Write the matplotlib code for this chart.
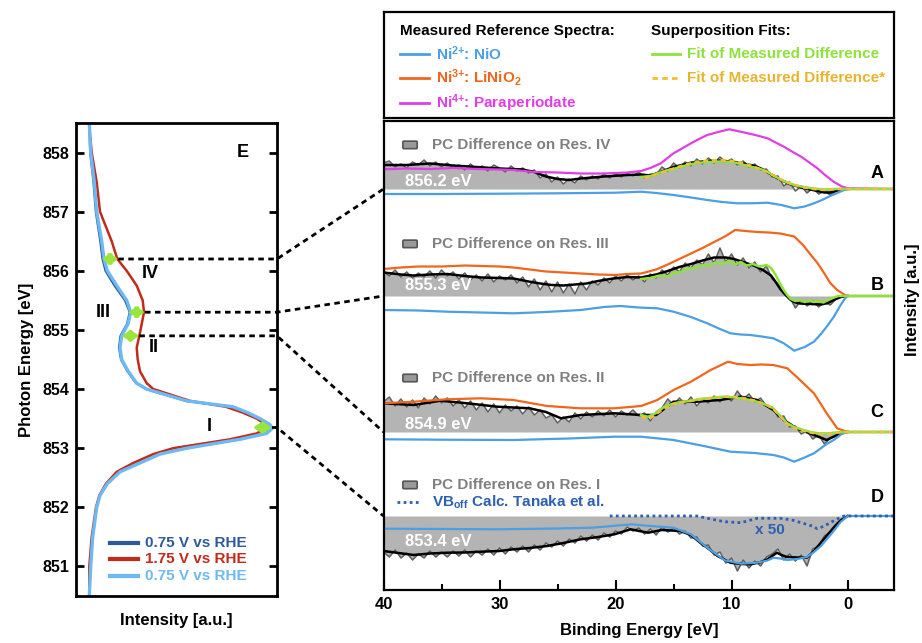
import numpy as np
import matplotlib
matplotlib.use('Agg')
import matplotlib.pyplot as plt
from matplotlib.lines import Line2D
from matplotlib.patches import FancyBboxPatch

plt.rcParams['font.family'] = ['Liberation Sans', 'DejaVu Sans']
plt.rcParams['font.weight'] = 'bold'
plt.rcParams['axes.labelweight'] = 'bold'
plt.rcParams['mathtext.fontset'] = 'custom'
plt.rcParams['mathtext.rm'] = 'Liberation Sans:bold'
plt.rcParams['mathtext.it'] = 'Liberation Sans:bold'
plt.rcParams['mathtext.bf'] = 'Liberation Sans:bold'
plt.rcParams['mathtext.sf'] = 'Liberation Sans:bold'

# ---------------- panel E : absorption edge ----------------
e_photon = [858.5, 858.0, 857.5, 857.0, 856.5, 856.2, 856.0, 855.75, 855.5, 855.3,
            855.1, 854.9, 854.7, 854.5, 854.3, 854.1, 854.0, 853.8, 853.7, 853.6,
            853.5, 853.4, 853.33, 853.25, 853.15, 853.0, 852.9, 852.75, 852.6, 852.4,
            852.2, 852.0, 851.5, 851.0, 850.5]
xas_075_first = [13.3, 14.2, 17.5, 19.8, 24.3, 26.5, 29.5, 38.5, 49.0, 53.7,
                 51.0, 44.5, 43.0, 45.0, 51.5, 60.0, 70.0, 110.0, 156.0, 171.0,
                 183.0, 193.0, 195.0, 189.7, 163.0, 110.0, 83.0, 63.0, 43.5, 31.0,
                 23.8, 20.5, 16.5, 14.5, 13.3]
xas_175 = [13.0, 15.7, 20.7, 24.0, 35.7, 41.3, 50.7, 60.7, 66.7, 68.0,
           65.7, 63.3, 60.7, 61.7, 64.0, 70.7, 77.3, 114.0, 150.0, 167.0,
           180.7, 190.0, 189.0, 180.7, 154.0, 97.3, 77.3, 57.3, 40.7, 30.0,
           23.3, 20.0, 15.7, 13.3, 13.3]
xas_075_back = [13.3, 14.7, 18.3, 20.7, 25.7, 28.0, 31.3, 40.7, 50.7, 54.7,
                52.0, 45.7, 44.0, 45.7, 52.3, 60.7, 70.7, 110.7, 157.0, 172.0,
                184.0, 194.0, 196.0, 190.7, 164.0, 110.7, 84.0, 64.0, 44.0, 31.3,
                24.0, 20.7, 16.7, 14.7, 13.3]
xas_labels = ['0.75 V vs RHE', '1.75 V vs RHE', '0.75 V vs RHE']

# resonance energies, arrow extents, names
res_energy = [856.2, 855.3, 854.9, 853.35]
res_left = [25.7, 52.3, 45.7, 177.0]
res_right = [42.3, 69.0, 63.3, 196.0]
res_names = ['IV', 'III', 'II', 'I']

# ---------------- right panels : binding energy spectra ----------------
pc_energy = np.arange(40, -0.25, -0.5)
pc_a = [26, 28, 22, 25, 21, 27, 24, 29, 23, 27,
        22, 26, 21, 24, 19, 25, 20, 23, 18, 24,
        21, 17, 23, 18, 21, 16, 19, 11, 15, 7,
        12, 5, 10, 6, 13, 9, 13, 10, 15, 11,
        15, 12, 16, 13, 17, 11, 15, 14, 22, 18,
        26, 21, 27, 23, 30, 25, 31, 26, 32, 27,
        30, 24, 28, 22, 25, 19, 20, 12, 13, 3,
        7, -2, 3, -4, 1, -5, -2, -6, -2, -1, 0]
pc_b = [25, 20, 26, 19, 24, 18, 23, 19, 25, 18,
        26, 20, 24, 17, 23, 16, 21, 15, 22, 14,
        20, 16, 21, 13, 19, 9, 17, 6, 15, 4,
        14, 3, 12, 2, 14, 6, 15, 11, 18, 13,
        20, 15, 21, 16, 20, 14, 22, 18, 26, 21,
        29, 24, 33, 28, 36, 31, 42, 33, 48, 34,
        42, 31, 38, 28, 34, 24, 30, 17, 12, 2,
        -1, -12, -4, -10, -5, -11, -6, -9, -3, -1, 0]
pc_c = [30, 35, 26, 33, 25, 32, 24, 34, 28, 36,
        29, 34, 26, 32, 24, 31, 22, 29, 20, 28,
        19, 27, 21, 26, 18, 25, 17, 22, 14, 17,
        9, 15, 10, 19, 13, 20, 15, 21, 16, 22,
        15, 21, 17, 22, 16, 19, 11, 20, 24, 33,
        27, 34, 28, 35, 26, 33, 29, 36, 30, 35,
        31, 41, 33, 38, 30, 34, 26, 25, 15, 16,
        5, 6, -2, 1, -7, -3, -12, -6, -4, -1, 0]
pc_d = [-36, -41, -34, -42, -37, -44, -38, -42, -35, -41,
        -36, -41, -35, -40, -34, -41, -35, -39, -33, -39,
        -32, -38, -31, -36, -30, -36, -29, -34, -27, -31,
        -25, -30, -23, -27, -20, -25, -19, -24, -17, -21,
        -15, -18, -11, -15, -12, -18, -13, -19, -11, -16,
        -12, -18, -15, -22, -21, -30, -29, -39, -36, -47,
        -42, -55, -44, -52, -45, -50, -41, -38, -33, -44,
        -38, -45, -39, -50, -33, -30, -20, -16, -8, -3, 0]

# smoothed PC differences
smooth_a_e = [40, 38, 36, 34, 32, 30, 28, 27, 26, 25, 24, 23, 21, 19, 17.8, 17, 16, 15,
              13.5, 12, 11, 10, 9, 8, 7.5, 6.5, 6, 5, 4, 3, 2, 1.5, 1, 0.5, 0]
smooth_a = [24, 24, 25.5, 23.5, 22, 20.5, 19.5, 17, 12.5, 10, 9, 10.5, 12.5, 14, 14.5, 13.5,
            17.5, 22, 26.3, 28, 28.3, 27.5, 25.5, 23, 20.7, 14, 10.5, 5, 1.5, -1, -3.5, -3.5,
            -2, -0.5, 0]
smooth_b_e = [40, 38.5, 37.4, 36, 34.5, 33, 31.6, 30, 28.8, 27.5, 26.5, 25.5, 24.5, 23.5,
              22.5, 21.5, 20.2, 19, 17.8, 16.5, 15.5, 14.5, 13.5, 12.5, 11.5, 10.5, 9.8, 9,
              8.1, 7.3, 6.6, 6.2, 5.8, 5.3, 4.9, 4.5, 4.1, 3.2, 2.3, 1.7, 1.2, 0.6, 0]
smooth_b = [23.5, 21.5, 20.5, 21.5, 22, 20, 18.5, 18, 17.5, 14.5, 12.5, 11, 10.5, 11.5, 12.5,
            15, 17.5, 19, 18.5, 21.5, 25, 29, 32, 35.5, 38.5, 38.5, 37, 34, 30.5, 26, 20.5,
            14, 7, 0.5, -4, -6.5, -7.5, -8, -8.5, -7, -4, -1, 0]
smooth_c_e = [40, 37.4, 35.1, 32.8, 30.2, 27.4, 26, 24.7, 23, 20.1, 17.8, 16.5, 15, 13, 11,
              9.2, 7.8, 6.4, 5.5, 4.4, 2.9, 1.8, 0.6, 0]
smooth_c = [28.7, 27, 31.3, 28.7, 25.3, 23.7, 20, 13.7, 17, 18.7, 17, 17, 30.3, 30.3, 32,
            35.3, 32, 22, 12, 3.7, -3, -8, -1.3, 0]
smooth_d_e = [40, 38.7, 37.4, 36, 34.5, 33, 31.6, 30, 28.8, 27.4, 25.9, 24.5, 23, 21.5, 20.1,
              18.7, 17.2, 16, 14.4, 13.5, 12.7, 11.9, 11.2, 10.1, 9.2, 8.4, 7.6, 6.9, 6.1,
              5.6, 5.2, 4.3, 3.5, 2.9, 2.3, 1.7, 1.2, 0.6, 0]
smooth_d = [-35, -37, -39, -37.5, -36.7, -36.5, -35.7, -35, -33.3, -32, -30, -27, -23.3, -21,
            -18.3, -13.3, -16.7, -14, -15, -19, -26.7, -33.5, -40, -46.7, -48, -48.3, -46.5,
            -43.3, -36.7, -39.5, -41, -41.5, -41.7, -35, -26.7, -18.5, -11.7, -4.5, 0]

# measured references (scaled per panel)
para_a_e = [40, 38, 36, 34, 32, 30, 28.8, 27, 25, 23, 21, 19, 17.8, 17, 16.1, 15, 14.2, 13.5,
            12.8, 12.1, 11, 10.2, 9.5, 8.6, 7.8, 6.9, 6.2, 5.5, 4.8, 4, 3.3, 2.6, 2, 1.2, 0.5,
            0, -4]
para_a = [19.7, 20.5, 20, 21, 20, 19.5, 19, 17, 16.5, 15.5, 15.5, 16.5, 18, 21, 25.7, 35.7,
          41, 45.7, 50, 54, 57.5, 59.7, 58, 55.7, 53.5, 50.7, 46.5, 42.3, 37.5, 32.3, 26.5,
          20.7, 14.5, 7.3, 2.5, 0.7, 0]
lnio_b_e = [40, 38.5, 37, 35, 33, 31.5, 30, 28.8, 27.4, 26, 24.5, 23, 21.5, 20, 19, 17.8, 16.5,
            15.5, 14.5, 13.5, 12.5, 11.5, 10.5, 9.7, 8.8, 7.8, 6.8, 5.8, 4.6, 3.8, 3.2, 2.6,
            2, 1.5, 0.9, 0.3, 0, -4]
lnio_b = [27, 28.5, 29.5, 29.5, 30.5, 30, 29.5, 28.5, 26.5, 24.5, 23.5, 22.5, 21.5, 21, 22,
          22.5, 26.5, 31.5, 37, 42.5, 48, 54, 60, 66, 65, 64, 63.5, 62.5, 59.5, 50.5, 41.5,
          33, 22.5, 13, 6, 1.5, 0, 0]
lnio_c_e = [40, 37.4, 34.5, 31.6, 28.8, 25.9, 23, 20.1, 17.8, 16.4, 15, 13.5, 11.8, 10.3, 9.5,
            8.4, 7.4, 6.4, 5.2, 4.1, 2.9, 1.8, 0.9, 0, -4]
lnio_c = [28.7, 30.3, 32.7, 33.7, 32, 26, 23.7, 23.7, 26, 32, 42, 50.3, 62, 70.3, 68, 67, 67.5,
          67, 63.7, 52, 38.7, 18.7, 3.7, 0, 0]
nio_a_e = [40, 35, 30, 25, 20, 17.8, 16.5, 15, 13.5, 12.1, 10.8, 9.5, 8, 6.9, 5.7, 4.6, 3.7,
           2.9, 2.2, 1.5, 0.8, 0.3, 0, -4]
nio_a = [-5, -5, -4.7, -4.3, -3.7, -2.7, -4, -6, -8.5, -11, -13, -14.3, -14.2, -13.7, -16,
         -19.3, -17.5, -14.3, -11, -7, -3.5, -1, 0, 0]
nio_b_e = [40, 37, 34.5, 31.6, 28.8, 26, 23, 21, 19.6, 18, 16.4, 15, 13.5, 12.1, 11, 10.1,
           9.2, 8.4, 7.4, 6.4, 5.5, 4.6, 3.7, 2.9, 2.3, 1.8, 1.2, 0.6, 0.2, 0, -4]
nio_b = [-14, -14.5, -15.7, -16.5, -17.3, -16, -14, -11, -10, -11.5, -12.3, -15.7, -21, -27.3,
         -33, -37.3, -38.5, -39, -40.5, -42.3, -47.3, -54.7, -51, -45.7, -38, -30.7, -21, -9,
         -2, 0, 0]
nio_c_e = [40, 35, 28.8, 24, 20.1, 17.8, 15, 12.1, 10.1, 8, 6.4, 5.5, 4.6, 3.7, 2.9, 1.8, 1.2,
           0.5, 0, -4]
nio_c = [-7.3, -7.7, -8, -6.5, -4.7, -4.7, -8, -14.7, -19.7, -21, -23, -25.5, -29.7, -25.5,
         -21.3, -12, -8, -2, 0, 0]
nio_d_e = [40, 35, 30, 25, 22, 18.6, 17, 15, 13.5, 12.1, 10.6, 9.2, 7.8, 6.9, 6.4, 5.8, 5.2,
           4.3, 3.5, 2.9, 2.3, 1.7, 1.2, 0.6, 0, -4]
nio_d = [-12.7, -13, -13.3, -12.5, -11.7, -8.3, -10, -11.7, -18.3, -31.7, -44.3, -47.7, -46.7,
         -44.5, -41.7, -42.5, -44, -43, -41, -36, -30, -22, -15, -6, 0, 0]

# superposition fits
fit_a_e = [17.8, 17, 16.3, 15.5, 15, 14, 13, 12, 11, 10.3, 9.5, 8.4, 7.5, 6.9, 6.3, 5.7, 5,
           4.6, 4, 3, 2.5, 2, 1, -4]
fit_a = [12, 13, 16, 19, 20, 23.5, 26, 27, 27.5, 27.3, 26, 22.5, 20, 17, 13, 9, 5.5, 4, 2.5,
         0.5, 0, -0.5, 0, 0]
fit2_a_e = [17.5, 16, 15, 14, 13, 12, 11, 10, 9, 8, 7, 6, 5, 4, 3, 2, 1, -4]
fit2_a = [11, 16.5, 20.5, 24.5, 27, 28.5, 29, 28, 26, 22, 17.5, 11, 6, 2, 0, -1, 0, 0]
fit_b_e = [17.8, 17, 16.2, 15.5, 15, 14.4, 13.8, 13.2, 12.5, 12, 11.4, 10.8, 10.2, 9.7, 9.2,
           8.7, 8.2, 7.6, 7, 6.6, 6.2, 5.8, 5.5, 5.2, 4.9, 4.5, 4.1, 3.7, 3.3, 2.9, 2.5, 2.1,
           1.7, 1.3, 0.8, -4]
fit_b = [17, 18, 20.5, 19.5, 23, 24, 27.5, 28, 31, 30, 33.5, 32, 35, 31.5, 34, 30.5, 32, 29.5,
         31, 28, 21, 12, 6, 1, -3, -5, -4, -6, -4.5, -6, -5, -6.5, -4, -2, 0, 0]
fit_c_e = [17.8, 17.2, 16.5, 15.8, 15, 14.3, 13.5, 12.8, 12.1, 11.4, 10.6, 9.8, 9.2, 8.4, 7.8,
           7, 6.4, 5.8, 5.2, 4.6, 4, 3.2, 2.5, 1.8, 1, 0.5, -4]
fit_c = [17, 15.3, 19, 25.3, 28.5, 30.3, 31, 33, 33.7, 34.5, 35.3, 34.5, 33.7, 32, 30.3, 27,
         23.7, 16, 8.7, 5, 2.7, 0, -1.3, -1.5, -0.5, 0, 0]
fit2_c_e = [17.8, 17, 16, 15, 14, 13, 12, 11, 10, 9, 8, 7, 6.4, 5.8, 5.2, 4.5, 3.5, 2.5, 1.5,
            0.8, 0, -4]
fit2_c = [15, 14, 22, 28, 30.5, 32, 33.5, 35, 35.5, 34, 31.5, 27.5, 23, 15.5, 8, 3.5, 0, -2,
          -2, -0.5, 0, 0]
calc_d_e = [20.5, 13, 11.8, 10.6, 9.2, 7.8, 5.8, 4.8, 4, 3.2, 2.6, 2, 1.5, 0.9, 0.3, -4]
calc_d = [0, 0, -3, -5.7, -6.7, -2.3, -2.3, -4, -6.7, -9.5, -12.7, -10, -6.7, -3, 0, 0]

panel_offsets = [401, 294, 158, 74]
panel_letters = ['A', 'B', 'C', 'D']
panel_energies = ['856.2 eV', '855.3 eV', '854.9 eV', '853.4 eV']

# colours
c_nio = '#4c9fe3'
c_lnio = '#f0661c'
c_para = '#e03ee6'
c_fit = '#8ee23a'
c_fit2 = '#f0c030'
c_fill = '#b4b4b4'
c_noisy = '#606060'
c_pc = '#808080'
c_calc = '#2d60b0'
c_dark = '#2e5a9c'
c_red = '#c22a1a'
c_light = '#6cb9f4'
c_arrow = '#9ae53c'

fig = plt.figure(figsize=(9.22, 6.43), dpi=100)
axE = fig.add_axes([76 / 922, 47 / 643, 201 / 922, 473 / 643])
axR = fig.add_axes([383.5 / 922, 53 / 643, 510.5 / 922, 469 / 643])
axL = fig.add_axes([383.5 / 922, 525 / 643, 510.5 / 922, 106 / 643])

# ---- E ----
axE.plot(xas_075_first, e_photon, color=c_dark, lw=1.6)
axE.plot(xas_175, e_photon, color=c_red, lw=1.8)
axE.plot(xas_075_back, e_photon, color=c_light, lw=2.4)
axE.set_xlim(0, 201)
axE.set_ylim(850.5, 858.5)
axE.set_xticks([])
axE.set_yticks(range(851, 859))
axE.tick_params(axis='y', direction='in', length=6, width=2, right=True,
                labelsize=11.5, pad=5)
for s in axE.spines.values():
    s.set_linewidth(2)
axE.set_ylabel('Photon Energy [eV]', fontsize=12, labelpad=6)
axE.set_xlabel('Intensity [a.u.]', fontsize=12, labelpad=12)

for e_val, x0, x1 in zip(res_energy, res_left, res_right):
    axE.annotate('', xy=(x1, e_val), xytext=(x0, e_val),
                 arrowprops=dict(arrowstyle='<|-|>,head_length=0.45,head_width=0.3',
                                 color=c_arrow, lw=2.5, shrinkA=0, shrinkB=0))
axE.text(167, 858.0, 'E', fontsize=13, ha='center', va='center')
axE.text(74, 855.95, 'IV', fontsize=13, ha='center', va='center')
axE.text(27, 855.29, 'III', fontsize=13, ha='center', va='center')
axE.text(78, 854.7, 'II', fontsize=13, ha='center', va='center')
axE.text(133, 853.37, 'I', fontsize=13, ha='center', va='center')

for yy, col, lab in zip([0.1127, 0.0776, 0.0423], [c_dark, c_red, c_light], xas_labels):
    axE.plot([0.169, 0.308], [yy, yy], transform=axE.transAxes, color=col, lw=3)
    axE.text(0.343, yy, lab, transform=axE.transAxes, color=col, fontsize=11,
             va='center', ha='left')

# ---- right panels ----
pcs = [pc_a, pc_b, pc_c, pc_d]
smooths = [(smooth_a_e, smooth_a), (smooth_b_e, smooth_b), (smooth_c_e, smooth_c),
           (smooth_d_e, smooth_d)]
for off, pc, (se, sv) in zip(panel_offsets, pcs, smooths):
    yy = off + np.array(pc)
    axR.fill_between(pc_energy, off, yy, color=c_fill, lw=0)
    axR.plot(pc_energy, yy, color=c_noisy, lw=1.1)
    axR.plot(se, off + np.array(sv), color='black', lw=1.8)

refs = [(para_a_e, para_a, 0, c_para), (nio_a_e, nio_a, 0, c_nio),
        (lnio_b_e, lnio_b, 1, c_lnio), (nio_b_e, nio_b, 1, c_nio),
        (lnio_c_e, lnio_c, 2, c_lnio), (nio_c_e, nio_c, 2, c_nio),
        (nio_d_e, nio_d, 3, c_nio)]
for xe, yv, k, col in refs:
    axR.plot(xe, panel_offsets[k] + np.array(yv), color=col, lw=1.6)

fits = [(fit_a_e, fit_a, 0, c_fit, '-'), (fit2_a_e, fit2_a, 0, c_fit2, (0, (2, 1.5))),
        (fit_b_e, fit_b, 1, c_fit, '-'),
        (fit_c_e, fit_c, 2, c_fit, '-'), (fit2_c_e, fit2_c, 2, c_fit2, (0, (2, 1.5)))]
for xe, yv, k, col, ls in fits:
    axR.plot(xe, panel_offsets[k] + np.array(yv), color=col, lw=1.8, ls=ls)
axR.plot(calc_d_e, panel_offsets[3] + np.array(calc_d), color=c_calc, lw=2,
         ls=(0, (1, 1.2)))

axR.set_xlim(40, -4)
axR.set_ylim(0, 469)
axR.set_xticks([40, 30, 20, 10, 0])
axR.set_xticks([35, 25, 15, 5], minor=True)
axR.set_yticks([])
axR.tick_params(axis='x', which='major', direction='in', length=7, width=1.5,
                labelsize=12, pad=5)
axR.tick_params(axis='x', which='minor', direction='in', length=4, width=1.5)
for s in axR.spines.values():
    s.set_linewidth(1.6)
axR.set_xlabel('Binding Energy [eV]', fontsize=12, labelpad=8)
fig.text(912 / 922, 1 - 300 / 643, 'Intensity [a.u.]', rotation=90, fontsize=12,
         ha='center', va='center')

pc_label_y = [0.949, 0.738, 0.452, 0.224]
energy_label_y = [0.872, 0.650, 0.352, 0.103]
letter_y = [0.889, 0.650, 0.3795, 0.198]
for k in range(4):
    axR.add_patch(FancyBboxPatch((0.040, pc_label_y[k] - 0.006), 0.024, 0.012,
                                 boxstyle='round,pad=0.002', transform=axR.transAxes,
                                 facecolor='#9a9a9a', edgecolor='#555555', lw=1.2))
    axR.text(0.095, pc_label_y[k], 'PC Difference on Res. ' + res_names[k],
             transform=axR.transAxes, color=c_pc, fontsize=11, va='center')
    axR.text(0.042, energy_label_y[k], panel_energies[k], transform=axR.transAxes,
             color='white', fontsize=12, va='center')
    axR.text(0.967, letter_y[k], panel_letters[k], transform=axR.transAxes,
             fontsize=13, ha='center', va='center')
axR.plot([0.026, 0.071], [0.188, 0.188], transform=axR.transAxes, color=c_calc, lw=2,
         ls=(0, (1, 1.2)))
axR.text(0.095, 0.188, r'VB$_{\rm off}$ Calc. Tanaka et al.', transform=axR.transAxes,
         color=c_calc, fontsize=11, va='center')
axR.text(0.757, 0.128, 'x 50', transform=axR.transAxes, color=c_calc, fontsize=11,
         ha='center', va='center')

# ---- connecting dashed lines ----
to_fig = fig.transFigure.inverted()
for e_val, x1, off in zip(res_energy, res_right, panel_offsets):
    p0 = axE.transData.transform((x1, e_val))
    p1 = axE.get_yaxis_transform().transform((1.0, e_val))
    p2 = axR.transData.transform((40, off))
    pts = to_fig.transform(np.array([p0, p1, p2]))
    fig.add_artist(Line2D(pts[:, 0], pts[:, 1], transform=fig.transFigure, color='black',
                          lw=2, ls=(0, (2, 1.6))))

# ---- legend box ----
axL.set_xlim(0, 1)
axL.set_ylim(0, 1)
axL.set_xticks([])
axL.set_yticks([])
for s in axL.spines.values():
    s.set_linewidth(1.6)
axL.text(0.033, 0.825, 'Measured Reference Spectra:', fontsize=11, va='center')
axL.text(0.524, 0.825, 'Superposition Fits:', fontsize=11, va='center')
leg_rows = [(0.607, c_nio, r'Ni$^{2{+}}$: NiO'),
            (0.378, c_lnio, r'Ni$^{3{+}}$: LiNiO$_2$'),
            (0.142, c_para, r'Ni$^{4{+}}$: Paraperiodate')]
for yy, col, lab in leg_rows:
    axL.plot([0.033, 0.09], [yy, yy], color=col, lw=2)
    axL.text(0.102, yy, lab, color=col, fontsize=11, va='center')
axL.plot([0.526, 0.581], [0.607, 0.607], color=c_fit, lw=2)
axL.text(0.595, 0.607, 'Fit of Measured Difference', color=c_fit, fontsize=11, va='center')
axL.plot([0.526, 0.581], [0.378, 0.378], color=c_fit2, lw=2, ls=(0, (2, 1.5)))
axL.text(0.595, 0.378, 'Fit of Measured Difference*', color='#e6b530', fontsize=11,
         va='center')

fig.savefig('out.png', dpi=100)
